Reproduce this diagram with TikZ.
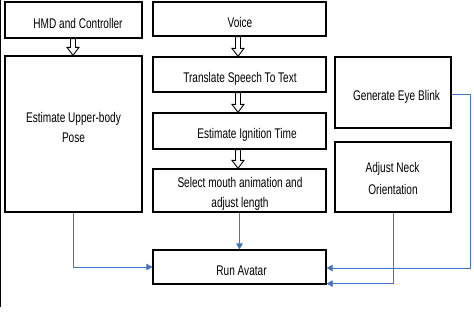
\documentclass[tikz,border=0pt]{standalone}
\usepackage{fontspec}
\setmainfont{Liberation Sans}[FakeStretch=0.72]
\usetikzlibrary{arrows.meta,calc}
\definecolor{flowblue}{HTML}{4472C4}
\tikzset{
  box/.style={draw=black, line width=1.2pt, fill=white, inner sep=0pt},
  txt/.style={anchor=base, inner sep=0pt, font=\fontsize{14pt}{20pt}\selectfont},
  flow/.style={draw=flowblue, line width=0.7pt,
    -{Triangle[length=6pt,width=6.5pt]}},
  hollow/.style={draw=black, line width=0.9pt, fill=white, line join=miter},
  frameline/.style={draw=black, line width=1.3pt}
}
% open block arrow pointing down from one box to the next
\newcommand\blockdown[3][0pt]{%
  \path[hollow] let \p1=(#2.south), \p2=(#3.north) in
    (\x1+#1-2.5pt,\y1) -- (\x1+#1-2.5pt,\y2+8pt) -- (\x1+#1-6pt,\y2+8pt)
    -- (\x1+#1,\y2) -- (\x1+#1+6pt,\y2+8pt) -- (\x1+#1+2.5pt,\y2+8pt)
    -- (\x1+#1+2.5pt,\y1) -- cycle;}
\begin{document}
\begin{tikzpicture}[x=1pt,y=-1pt]
\useasboundingbox (0,0) rectangle (474,314);

% left edge rule
\draw[frameline] (0.7,0) -- (0.7,307);

% left column
\node[box, minimum width=137pt, minimum height=36pt] (hmd) at (73.5,20) {};
\node[box, minimum width=137pt, minimum height=156pt] (pose) at (73.5,134) {};

% middle column
\node[box, minimum width=173pt, minimum height=34pt] (voice) at (239.5,19) {};
\node[box, minimum width=173pt, minimum height=35pt] (stt) at (239.5,74.5) {};
\node[box, minimum width=173pt, minimum height=36pt] (ign) at (239.5,131) {};
\node[box, minimum width=173pt, minimum height=43pt] (mouth) at (239.5,190.5) {};
\node[box, minimum width=173pt, minimum height=34pt] (run) at (239.5,267) {};

% right column
\node[box, minimum width=116pt, minimum height=71pt] (blink) at (393,92.5) {};
\node[box, minimum width=116pt, minimum height=70pt] (neck) at (393,177) {};

% box labels, placed on their baselines
\node[txt] (hmd-t) at (78,28) {HMD and Controller};
\node[txt] (pose-t1) at (73.5,122) {Estimate Upper-body};
\node[txt] (pose-t2) at (73.5,142) {Pose};
\node[txt] (voice-t) at (240,27) {Voice};
\node[txt] (stt-t) at (240,82) {Translate Speech To Text};
\node[txt] (ign-t) at (247,138) {Estimate Ignition Time};
\node[txt] (mouth-t1) at (240,187) {Select mouth animation and};
\node[txt] (mouth-t2) at (240,207) {adjust length};
\node[txt] (run-t) at (241.5,275.5) {Run Avatar};
\node[txt] (blink-t) at (396.5,100) {Generate Eye Blink};
\node[txt] (neck-t1) at (392.5,172.5) {Adjust Neck};
\node[txt] (neck-t2) at (393,194) {Orientation};

% open arrows
\blockdown[-0.5pt]{hmd}{pose}
\blockdown[-1.5pt]{voice}{stt}
\blockdown[-1.5pt]{stt}{ign}
\blockdown[-1.5pt]{ign}{mouth}

% data flow into the avatar
\draw[flow] (pose.south) |- (run.west);
\draw[flow] (mouth.south) -- (run.north);
\draw[flow] ([yshift=-2pt]blink.east) -- ++(19,0) |- ([yshift=-1pt]run.east);
\draw[flow] (neck.south) |- ([yshift=1pt]run.south east);
\end{tikzpicture}
\end{document}
